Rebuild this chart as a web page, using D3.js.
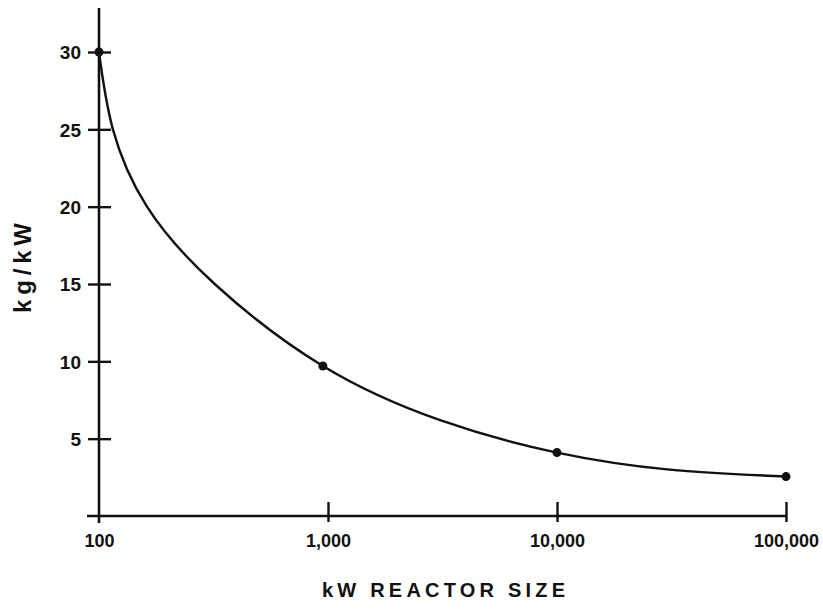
<!DOCTYPE html>
<html>
<head>
<meta charset="utf-8">
<script src="https://cdn.jsdelivr.net/npm/d3@7"></script>
<style>
  html, body { margin: 0; padding: 0; background: #fff; }
  svg { display: block; }
  text { font-family: "Liberation Sans", Arial, sans-serif; font-weight: bold; fill: #111; }
</style>
</head>
<body>
<svg id="chart" width="823" height="612"></svg>
<script>
// ---- data ----
const xTicks = [100, 1000, 10000, 100000];
const xTickLabels = ["100", "1,000", "10,000", "100,000"];
const yTicks = [5, 10, 15, 20, 25, 30];
const markerKW = [100, 950, 10000, 100000];
const markerKg = [30, 9.7, 4.1, 2.55];
const curveKW = [100, 115, 162, 320, 950, 3085, 10000, 31000, 100000];
const curveKg = [30, 25, 20, 15, 9.7, 6.2, 4.1, 3.0, 2.55];
const xTitle = "kW  REACTOR  SIZE";
const yTitle = "kg/kW";

// ---- layout ----
const svg = d3.select("#chart");
const x = d3.scaleLog().domain([100, 100000]).range([99, 786]);
const y = d3.scaleLinear().domain([0, 30]).range([516, 52]);
const ink = "#111";

// axis lines
svg.append("line").attr("x1", 87).attr("x2", x(100000)).attr("y1", y(0)).attr("y2", y(0))
  .attr("stroke", ink).attr("stroke-width", 2.6);
svg.append("line").attr("x1", x(100)).attr("x2", x(100)).attr("y1", 8).attr("y2", 523)
  .attr("stroke", ink).attr("stroke-width", 2.6);

// y ticks
const yAxis = d3.axisLeft(y).tickValues(yTicks).tickSize(0).tickFormat(d3.format("d"));
const yg = svg.append("g").attr("transform", `translate(${x(100)},0)`).call(yAxis);
yg.select(".domain").remove();
yg.selectAll(".tick line").remove();
yg.selectAll(".tick").append("line").attr("x1", -11).attr("x2", 12)
  .attr("stroke", ink).attr("stroke-width", 2.4);
yg.selectAll(".tick text").attr("x", -18).attr("dy", "0.36em")
  .style("font-size", "19px").attr("font-family", null).attr("fill", ink);

// x ticks
const xAxis = d3.axisBottom(x).tickValues(xTicks).tickSize(0)
  .tickFormat((d, i) => xTickLabels[i]);
const xg = svg.append("g").attr("transform", `translate(0,${y(0)})`).call(xAxis);
xg.select(".domain").remove();
xg.selectAll(".tick line").remove();
xg.selectAll(".tick").filter(d => d !== 100).append("line").attr("y1", -14).attr("y2", 6)
  .attr("stroke", ink).attr("stroke-width", 2.4);
xg.selectAll(".tick text").attr("y", 31).attr("dy", 0)
  .style("font-size", "18px").attr("font-family", null).attr("fill", ink);

// curve
const pts = curveKW.map((k, i) => [k, curveKg[i]]);
const line = d3.line().x(d => x(d[0])).y(d => y(d[1])).curve(d3.curveNatural);
svg.append("path").datum(pts).attr("d", line)
  .attr("fill", "none").attr("stroke", ink).attr("stroke-width", 2.4);

// markers
svg.selectAll("circle.m").data(markerKW.map((k, i) => [k, markerKg[i]])).enter()
  .append("circle").attr("class", "m")
  .attr("cx", d => x(d[0])).attr("cy", d => y(d[1])).attr("r", 4.5).attr("fill", ink);

// titles
svg.append("text").attr("x", 322).attr("y", 597).attr("textLength", 243)
  .attr("lengthAdjust", "spacing").style("font-size", "20px").text(xTitle);
svg.append("text").attr("transform", "translate(31,313) rotate(-90)")
  .attr("textLength", 90).attr("lengthAdjust", "spacing")
  .style("font-size", "24px").text(yTitle);
</script>
</body>
</html>
